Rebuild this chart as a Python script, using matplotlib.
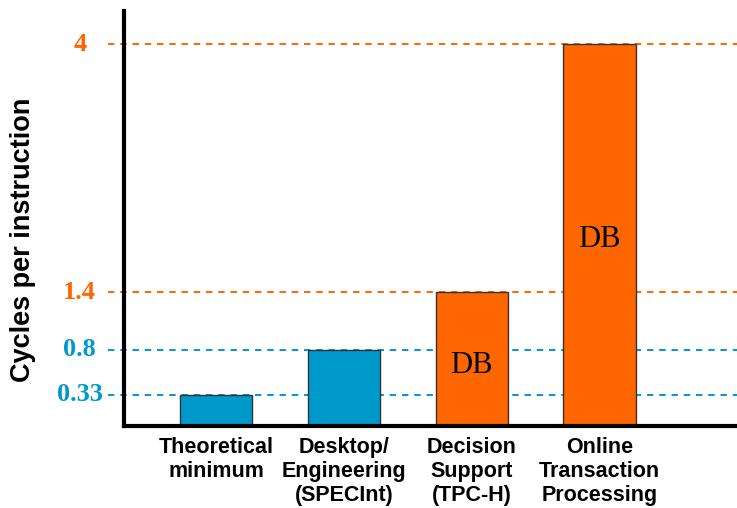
import matplotlib
matplotlib.use("Agg")
import matplotlib.pyplot as plt

categories = [
    "Theoretical\nminimum",
    "Desktop/\nEngineering\n(SPECInt)",
    "Decision\nSupport\n(TPC-H)",
    "Online\nTransaction\nProcessing",
]
cpi = [0.33, 0.8, 1.4, 4.0]
is_db = [False, False, True, True]
tick_values = [0.33, 0.8, 1.4, 4.0]
tick_labels = ["0.33", "0.8", "1.4", "4"]

BLUE = "#0099CC"
ORANGE = "#FF6600"

fig = plt.figure(figsize=(7.37, 5.08), dpi=100)
ax = fig.add_axes([124 / 737, 1 - 426 / 508, 613 / 737, 415 / 508])

x = list(range(len(categories)))
colors = [ORANGE if db else BLUE for db in is_db]

# dashed reference lines behind the bars
for v, lab, c in zip(tick_values, tick_labels, colors):
    ax.plot([-0.026, 1.0], [v, v], transform=ax.get_yaxis_transform(),
            color=c, lw=1.4, dashes=(3.3, 3.0), clip_on=False, zorder=1)
    ax.text(-0.072, v, lab, transform=ax.get_yaxis_transform(),
            ha="center", va="center", color=c, fontsize=19,
            fontweight="bold", family="Liberation Serif")

ax.bar(x, cpi, width=0.565, color=colors, edgecolor="#333333",
       linewidth=1.0, zorder=3)

for xi, h, db, frac in zip(x, cpi, is_db, [0.5, 0.5, 0.45, 0.49]):
    if db:
        ax.text(xi, h * frac, "DB", ha="center", va="center", fontsize=22,
                family="Liberation Serif", zorder=4)

ax.set_xlim(-0.72, 4.076)
ax.set_ylim(0, 4.35)

for side in ["top", "right"]:
    ax.spines[side].set_visible(False)
ax.spines["left"].set_linewidth(3)
ax.spines["bottom"].set_linewidth(3)
ax.spines["left"].set_zorder(5)
ax.spines["bottom"].set_zorder(5)

ax.set_yticks([])
ax.set_xticks(x)
ax.set_xticklabels(categories, fontsize=15.5, fontweight="bold",
                   family="Liberation Sans", linespacing=1.17)
ax.tick_params(axis="x", length=0, pad=8)

fig.text(23 / 737, 1 - 240 / 508, "Cycles per instruction", rotation=90,
         ha="center", va="center", fontsize=19.5, fontweight="bold",
         family="Liberation Sans")

fig.savefig("out.png", dpi=100)
